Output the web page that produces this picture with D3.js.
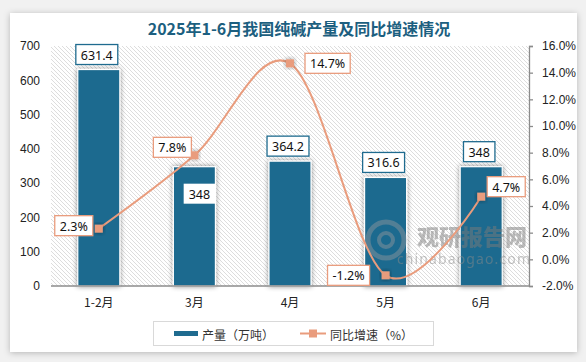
<!DOCTYPE html>
<html>
<head>
<meta charset="utf-8">
<script src="https://cdn.jsdelivr.net/npm/d3@7"></script>
<style>
  html, body { margin: 0; padding: 0; background: #f1f1f1; }
  svg { display: block; font-family: "Noto Sans", "Noto Sans CJK SC", sans-serif; }
</style>
</head>
<body>
<svg id="chart" width="586" height="362"></svg>
<script>
// data
var months = ["1-2月", "3月", "4月", "5月", "6月"];
var output = [631.4, 348, 364.2, 316.6, 348];     // 产量（万吨）
var growth = [2.3, 7.8, 14.7, -1.2, 4.7];         // 同比增速（%）
var leftTicks = [0, 100, 200, 300, 400, 500, 600, 700];
var rightTicks = [-2, 0, 2, 4, 6, 8, 10, 12, 14, 16];

var barColor = "#1f6b8f";
var lineColor = "#e99c7d";

var svg = d3.select("#chart"),
    width = +svg.attr("width"),
    height = +svg.attr("height");

var plot = {left: 51, right: 529, top: 46, bottom: 286};

var defs = svg.append("defs");

// diagonal hatch behind the plot
var pat = defs.append("pattern")
    .attr("id", "hatch")
    .attr("patternUnits", "userSpaceOnUse")
    .attr("width", 4).attr("height", 4);
pat.append("rect").attr("width", 4).attr("height", 4).attr("fill", "#fff");
pat.append("path")
    .attr("d", "M-1,-1 L5,5 M-1,3 L1,5 M3,-1 L5,1")
    .attr("stroke", "#d4d4d4").attr("stroke-width", 0.8);

var shadow = defs.append("filter").attr("id", "shadow")
    .attr("x", "-30%").attr("y", "-30%").attr("width", "160%").attr("height", "160%");
shadow.append("feDropShadow")
    .attr("dx", 0).attr("dy", 0).attr("stdDeviation", 2.5)
    .attr("flood-color", "#000").attr("flood-opacity", 0.45);

var cardShadow = defs.append("filter").attr("id", "cardShadow")
    .attr("x", "-5%").attr("y", "-5%").attr("width", "110%").attr("height", "110%");
cardShadow.append("feDropShadow")
    .attr("dx", 0).attr("dy", 1).attr("stdDeviation", 3)
    .attr("flood-color", "#000").attr("flood-opacity", 0.25);

// white card
svg.append("rect")
    .attr("x", 10).attr("y", 13)
    .attr("width", 567).attr("height", 339)
    .attr("fill", "#fff")
    .attr("filter", "url(#cardShadow)");

// title
svg.append("text")
    .attr("x", 299).attr("y", 35)
    .attr("text-anchor", "middle")
    .attr("font-family", "'Noto Sans CJK SC', sans-serif")
    .attr("font-size", 16).attr("font-weight", 700)
    .attr("fill", "#1c5f80")
    .text("2025年1-6月我国纯碱产量及同比增速情况");

// scales
var x = d3.scaleBand()
    .domain(months)
    .range([plot.left, plot.right])
    .paddingInner(0.56).paddingOuter(0.28);

var yL = d3.scaleLinear().domain([0, 700]).range([plot.bottom, plot.top]);
var yR = d3.scaleLinear().domain([-2, 16]).range([plot.bottom, plot.top]);

var cx = function(d, i) { return x(months[i]) + x.bandwidth() / 2; };

svg.append("rect")
    .attr("x", plot.left).attr("y", plot.top)
    .attr("width", plot.right - plot.left)
    .attr("height", plot.bottom - plot.top)
    .attr("fill", "url(#hatch)");

// bars
svg.append("g")
  .selectAll("rect")
  .data(output)
  .enter().append("rect")
    .attr("x", function(d, i) { return x(months[i]); })
    .attr("y", function(d) { return yL(d); })
    .attr("width", x.bandwidth())
    .attr("height", function(d) { return yL(0) - yL(d); })
    .attr("fill", barColor)
    .attr("stroke", "#fff").attr("stroke-width", 1.2)
    .attr("filter", "url(#shadow)");

// watermark, drawn over the bars
var wm = svg.append("g").attr("opacity", 0.5);
wm.append("circle").attr("cx", 386).attr("cy", 240).attr("r", 18)
    .attr("fill", "none").attr("stroke", "#8a949c").attr("stroke-width", 5);
wm.append("circle").attr("cx", 386).attr("cy", 240).attr("r", 7)
    .attr("fill", "none").attr("stroke", "#8a949c").attr("stroke-width", 4);
wm.append("text").attr("x", 417).attr("y", 245)
    .attr("font-family", "'Noto Sans CJK SC', sans-serif")
    .attr("font-size", 22).attr("font-weight", 900).attr("fill", "#7a7a7a")
    .text("观研报告网");
wm.append("text").attr("x", 397).attr("y", 264)
    .attr("font-size", 14).attr("fill", "#8a8a8a")
    .attr("textLength", 133)
    .text("chinabaogao.com");

// axes
var axisColor = "#8c8c8c";
svg.append("line")
    .attr("x1", plot.left).attr("x2", plot.right)
    .attr("y1", plot.bottom).attr("y2", plot.bottom)
    .attr("stroke", axisColor).attr("stroke-width", 1.3);

var gL = svg.append("g")
    .attr("transform", "translate(" + (plot.left - 11) + ",0)")
    .call(d3.axisLeft(yL).tickValues(leftTicks).tickSize(0).tickPadding(0));
gL.select(".domain").remove();
gL.selectAll("text").attr("font-size", 12).attr("fill", "#222");

var gR = svg.append("g")
    .attr("transform", "translate(" + plot.right + ",0)")
    .call(d3.axisRight(yR).tickValues(rightTicks).tickSize(4).tickPadding(9)
          .tickFormat(function(d) { return d.toFixed(1) + "%"; }));
gR.select(".domain").attr("stroke", axisColor).attr("stroke-width", 1.3);
gR.selectAll("line").attr("stroke", axisColor).attr("stroke-width", 1.3);
gR.selectAll("text").attr("font-size", 12).attr("fill", "#222");

var gX = svg.append("g")
    .attr("transform", "translate(0," + plot.bottom + ")")
    .call(d3.axisBottom(x).tickSize(0).tickPadding(12));
gX.select(".domain").remove();
gX.selectAll("text").attr("font-size", 12).attr("fill", "#222")
    .attr("font-family", "'Noto Sans CJK SC', sans-serif");

// growth line
var pts = growth.map(function(d, i) { return [cx(d, i), yR(d)]; });

svg.append("path")
    .datum(pts)
    .attr("fill", "none")
    .attr("stroke", lineColor)
    .attr("stroke-width", 2)
    .attr("d", d3.line().curve(d3.curveCardinal.tension(0)));

svg.append("g")
  .selectAll("rect")
  .data(pts)
  .enter().append("rect")
    .attr("x", function(d) { return d[0] - 4; })
    .attr("y", function(d) { return d[1] - 4; })
    .attr("width", 8).attr("height", 8)
    .attr("fill", lineColor)
    .attr("filter", "url(#shadow)");

// boxed data labels
function boxLabel(g, txt, px, py, anchor, border, noBorder) {
  var t = g.append("text")
      .attr("font-size", 12.5).attr("fill", "#111")
      .attr("dominant-baseline", "central")
      .text(txt);
  var w = t.node().getComputedTextLength() + 10, h = 20;
  var bx = anchor === "left" ? px - w : anchor === "right" ? px : px - w / 2;
  g.insert("rect", "text")
      .attr("x", bx).attr("y", py - h / 2)
      .attr("width", w).attr("height", h)
      .attr("fill", "#fff")
      .attr("stroke", noBorder ? "none" : border).attr("stroke-width", 1.3);
  t.attr("x", bx + w / 2).attr("text-anchor", "middle").attr("y", py + 0.5);
}

var barLbl = svg.append("g");
output.forEach(function(d, i) {
  var inside = i === 1;   // 3月 label sits inside the bar
  var px = cx(d, i) + (inside ? 5 : -2);
  var py = inside ? yL(d) + 27 : yL(d) - 15;
  boxLabel(barLbl, String(d), px, py, "middle", barColor, inside);
});

// placement of growth labels relative to their points
var side = ["left", "left", "right", "left", "right"];
var gap = [6, 3, 15, 16, 6];
var lift = [-3, -8, 0, 0, -10];
var lineLbl = svg.append("g");
growth.forEach(function(d, i) {
  var p = pts[i];
  var px = side[i] === "left" ? p[0] - gap[i] : p[0] + gap[i];
  boxLabel(lineLbl, d.toFixed(1) + "%", px, p[1] + lift[i], side[i], lineColor, false);
});

// legend
var lg = svg.append("g");
lg.append("rect")
    .attr("x", 153.5).attr("y", 321.5)
    .attr("width", 280).attr("height", 24)
    .attr("fill", "#fff").attr("stroke", "#d9d9d9");
lg.append("rect")
    .attr("x", 174).attr("y", 331)
    .attr("width", 24).attr("height", 5)
    .attr("fill", barColor);
lg.append("text")
    .attr("x", 202).attr("y", 334)
    .attr("dominant-baseline", "central")
    .attr("font-family", "'Noto Sans CJK SC', sans-serif")
    .attr("font-size", 12).attr("fill", "#333")
    .text("产量（万吨）");
lg.append("line")
    .attr("x1", 300).attr("x2", 326)
    .attr("y1", 333.5).attr("y2", 333.5)
    .attr("stroke", lineColor).attr("stroke-width", 2);
lg.append("rect")
    .attr("x", 309).attr("y", 329.5)
    .attr("width", 8).attr("height", 8)
    .attr("fill", lineColor);
lg.append("text")
    .attr("x", 330).attr("y", 334)
    .attr("dominant-baseline", "central")
    .attr("font-family", "'Noto Sans CJK SC', sans-serif")
    .attr("font-size", 12).attr("fill", "#333")
    .text("同比增速（%）");
</script>
</body>
</html>
